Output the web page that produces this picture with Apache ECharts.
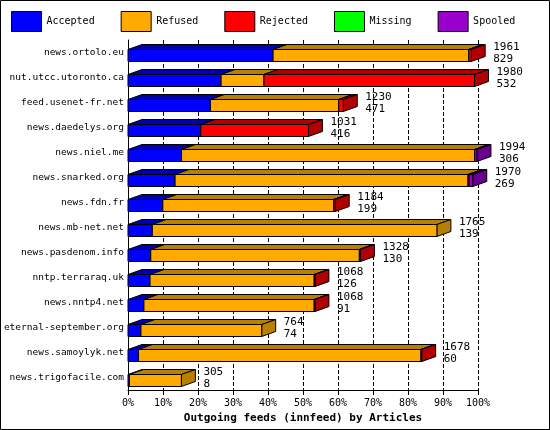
<!DOCTYPE html>
<html><head><meta charset="utf-8">
<script src="https://cdn.jsdelivr.net/npm/echarts@6/dist/echarts.min.js"></script>
<style>body{margin:0;background:#fff}#main{width:550px;height:430px}</style>
</head><body><div id="main"></div>
<script>
var hosts = ['news.ortolo.eu','nut.utcc.utoronto.ca','feed.usenet-fr.net','news.daedelys.org','news.niel.me','news.snarked.org','news.fdn.fr','news.mb-net.net','news.pasdenom.info','nntp.terraraq.uk','news.nntp4.net','eternal-september.org','news.samoylyk.net','news.trigofacile.com'];
var accepted = [829,532,471,416,306,269,199,139,130,126,91,74,60,8];
var refused  = [1118,245,733,0,1675,1674,977,1626,1192,938,973,690,1614,297];
var rejected = [14,1203,26,615,0,6,8,0,6,4,4,0,4,0];
var missing  = [0,0,0,0,0,0,0,0,0,0,0,0,0,0];
var spooled  = [0,0,0,0,13,21,0,0,0,0,0,0,0,0];
var totals   = [1961,1980,1230,1031,1994,1970,1184,1765,1328,1068,1068,764,1678,305];

var names = ['Accepted','Refused','Rejected','Missing','Spooled'];
var front = ['#0000ff','#ffaa00','#ff0000','#00ff00','#9900cc'];
var dark  = ['#0000b0','#b88000','#b00000','#00b000','#6a0090'];
var sets = [accepted, refused, rejected, missing, spooled];
var DX = 14, DY = 5, BH = 12;

var myChart = echarts.init(document.getElementById('main'));

function makeSeries(k) {
    var data = hosts.map(function (h, i) {
        var start = 0;
        for (var j = 0; j < k; j++) start += sets[j][i];
        return [start, start + sets[k][i], i];
    });
    return {
        name: names[k], type: 'custom', z: 10 + k,
        itemStyle: {color: front[k]},
        data: data,
        renderItem: function (params, api) {
            var a = api.coord([api.value(0), api.value(2)]);
            var b = api.coord([api.value(1), api.value(2)]);
            if (api.value(1) - api.value(0) <= 0) return;
            var x0 = a[0], x1 = b[0], y = a[1] - BH / 2 + 3;
            var st = {stroke: '#000', lineWidth: 1};
            return {type: 'group', children: [
                {type: 'polygon', shape: {points: [[x0, y], [x0 + DX, y - DY], [x1 + DX, y - DY], [x1, y]]},
                    style: Object.assign({fill: dark[k]}, st)},
                {type: 'polygon', shape: {points: [[x1, y], [x1 + DX, y - DY], [x1 + DX, y + BH - DY], [x1, y + BH]]},
                    style: Object.assign({fill: dark[k]}, st)},
                {type: 'rect', shape: {x: x0, y: y, width: x1 - x0, height: BH},
                    style: Object.assign({fill: front[k]}, st)}
            ]};
        }
    };
}

var series = names.map(function (n, k) { return makeSeries(k); });
series.push({
    type: 'custom', z: 30, data: totals.map(function (t, i) { return [t, i, accepted[i]]; }),
    renderItem: function (params, api) {
        var p = api.coord([api.value(0), api.value(1)]);
        return {type: 'text', style: {x: p[0] + DX + 8, y: p[1] - 11,
            text: api.value(0) + '\n' + api.value(2), fill: '#000',
            font: '11px "DejaVu Sans Mono"', lineHeight: 12}};
    }
});

option = {
    animation: false,
    textStyle: {fontFamily: 'DejaVu Sans Mono'},
    graphic: [{type: 'rect', shape: {x: 0.5, y: 0.5, width: 549, height: 429},
        style: {fill: 'none', stroke: '#000', lineWidth: 1}, silent: true}],
    legend: {
        top: 6, left: 6, itemGap: 26, itemWidth: 30, itemHeight: 20, icon: 'rect',
        data: names, textStyle: {fontSize: 10, color: '#000', fontFamily: 'DejaVu Sans Mono'},
        itemStyle: {borderColor: '#000', borderWidth: 1}
    },
    color: front,
    grid: {left: 128, right: 72, top: 40, bottom: 40, outerBoundsMode: 'none', containLabel: false},
    xAxis: {
        type: 'value', min: 0, max: 2000, interval: 200,
        name: 'Outgoing feeds (innfeed) by Articles', nameLocation: 'middle', nameGap: 22,
        nameTextStyle: {fontWeight: 'bold', fontSize: 11, color: '#000', fontFamily: 'DejaVu Sans Mono'},
        axisLine: {show: true, lineStyle: {color: '#000'}},
        axisTick: {show: true, lineStyle: {color: '#000'}},
        axisLabel: {formatter: function (v) { return (v / 20) + '%'; }, color: '#000', fontSize: 10, margin: 8},
        splitLine: {show: true, lineStyle: {color: '#000', type: 'dashed'}}
    },
    yAxis: {
        type: 'category', data: hosts, inverse: true,
        axisLine: {show: true, lineStyle: {color: '#000'}}, axisTick: {show: false},
        axisLabel: {color: '#000', fontSize: 9.5, margin: 4}
    },
    series: series
};
myChart.setOption(option);
</script></body></html>
